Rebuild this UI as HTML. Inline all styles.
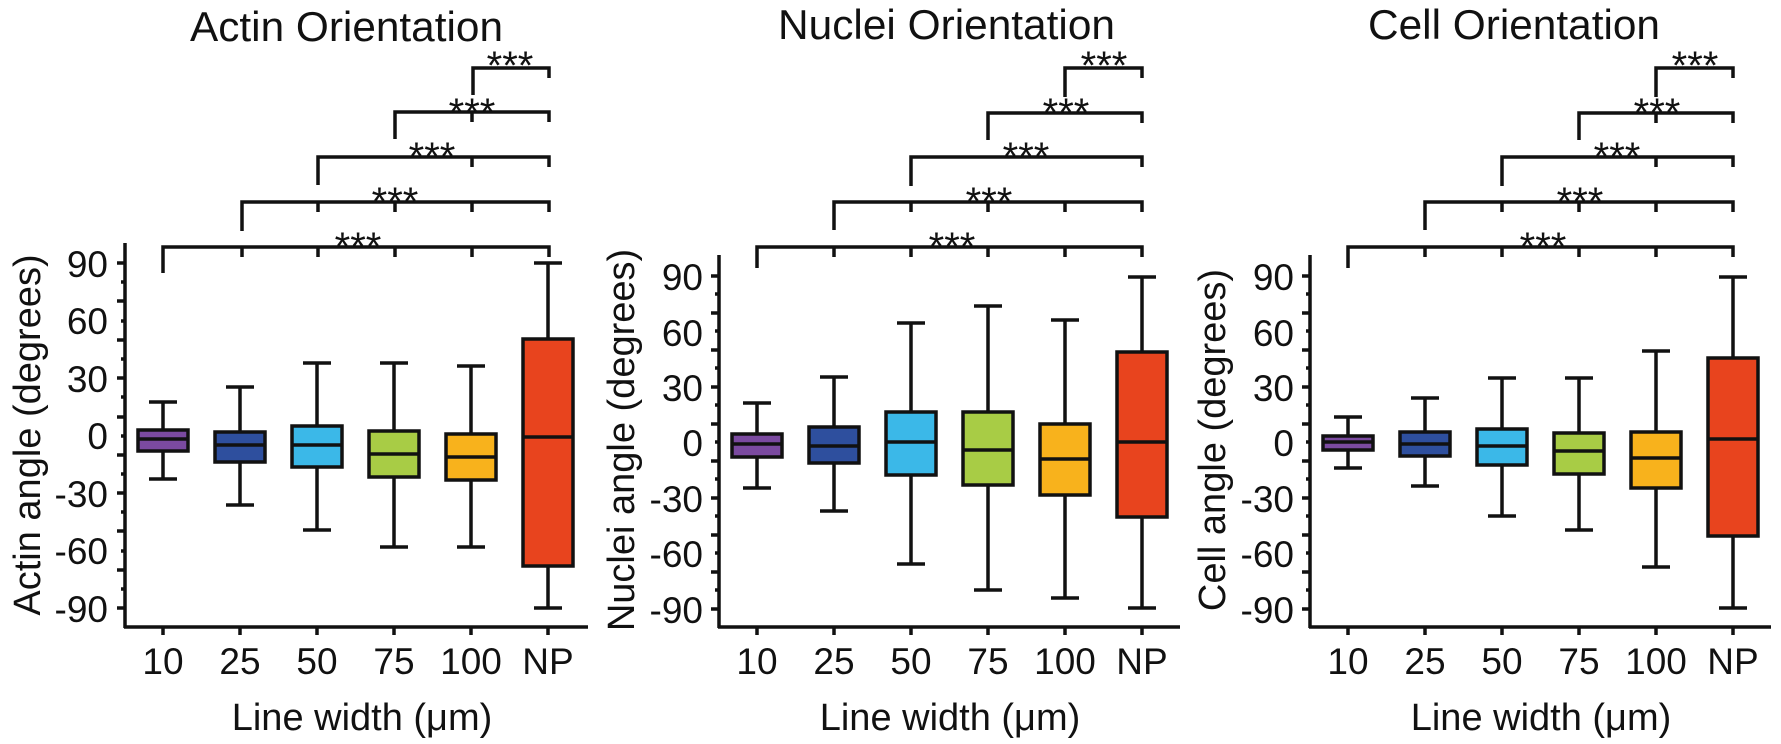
<!DOCTYPE html>
<html><head><meta charset="utf-8"><style>
html,body{margin:0;padding:0;background:#fff;}
svg{display:block;}
text{font-family:"Liberation Sans",Arial,sans-serif;fill:#111;}
.t{font-size:42px;}
.k{font-size:37px;}
.a{font-size:38px;}
.s{font-size:40px;}
line,rect,path{stroke:#111;stroke-width:3.5;}
</style></head><body>
<svg width="1781" height="744" viewBox="0 0 1781 744" xmlns="http://www.w3.org/2000/svg">

<!-- ================= PANEL 1 ================= -->
<text class="t" x="190" y="41" textLength="313" lengthAdjust="spacingAndGlyphs">Actin Orientation</text>
<g fill="none">
<path d="M473 95V68H549V78"/>
<path d="M395 139V112H549V122M472 112V122"/>
<path d="M318 185V157H549V167M472 157V167"/>
<path d="M242 231V202H549V212M318 202V212M395 202V212M472 202V212"/>
<path d="M163 273V247H549V257M242 247V257M318 247V257M395 247V257M472 247V257"/>
</g>
<g class="s" text-anchor="middle">
<text x="510" y="79">***</text><text x="472" y="126">***</text><text x="432" y="170">***</text><text x="395" y="215">***</text><text x="358" y="260">***</text>
</g>
<line x1="125" y1="243" x2="125" y2="628"/>
<line x1="124" y1="627" x2="588" y2="627"/>
<g>
<line x1="117" y1="263" x2="125" y2="263"/><line x1="117" y1="301" x2="125" y2="301"/><line x1="117" y1="340" x2="125" y2="340"/><line x1="117" y1="378" x2="125" y2="378"/><line x1="117" y1="417" x2="125" y2="417"/><line x1="117" y1="455" x2="125" y2="455"/><line x1="117" y1="493" x2="125" y2="493"/><line x1="117" y1="531" x2="125" y2="531"/><line x1="117" y1="570" x2="125" y2="570"/><line x1="117" y1="608" x2="125" y2="608"/>
<line x1="121" y1="282" x2="125" y2="282"/><line x1="121" y1="321" x2="125" y2="321"/><line x1="121" y1="359" x2="125" y2="359"/><line x1="121" y1="397" x2="125" y2="397"/><line x1="121" y1="436" x2="125" y2="436"/><line x1="121" y1="474" x2="125" y2="474"/><line x1="121" y1="512" x2="125" y2="512"/><line x1="121" y1="551" x2="125" y2="551"/><line x1="121" y1="589" x2="125" y2="589"/>
</g>
<g class="k" text-anchor="end">
<text x="108" y="277">90</text><text x="108" y="334">60</text><text x="108" y="392">30</text><text x="108" y="449">0</text><text x="108" y="507">-30</text><text x="108" y="564">-60</text><text x="108" y="622">-90</text>
</g>
<text class="a" transform="translate(40,435) rotate(-90)" text-anchor="middle">Actin angle (degrees)</text>
<g class="k" text-anchor="middle">
<text x="163" y="674">10</text><text x="240" y="674">25</text><text x="317" y="674">50</text><text x="394" y="674">75</text><text x="471" y="674">100</text><text x="548" y="674">NP</text>
</g>
<text class="a" x="362" y="730" text-anchor="middle">Line width (μm)</text>
<g>
<line x1="163" y1="627" x2="163" y2="635"/><line x1="240" y1="627" x2="240" y2="635"/><line x1="317" y1="627" x2="317" y2="635"/><line x1="394" y1="627" x2="394" y2="635"/><line x1="471" y1="627" x2="471" y2="635"/><line x1="548" y1="627" x2="548" y2="635"/>
</g>
<g>
<line x1="163" y1="402" x2="163" y2="479"/><line x1="149" y1="402" x2="177" y2="402"/><line x1="149" y1="479" x2="177" y2="479"/><rect x="138" y="430" width="50" height="21" fill="#7b4aa0"/><line x1="138" y1="439" x2="188" y2="439"/>
<line x1="240" y1="387" x2="240" y2="505"/><line x1="226" y1="387" x2="254" y2="387"/><line x1="226" y1="505" x2="254" y2="505"/><rect x="215" y="432" width="50" height="30" fill="#2e4f9e"/><line x1="215" y1="445" x2="265" y2="445"/>
<line x1="317" y1="363" x2="317" y2="530"/><line x1="303" y1="363" x2="331" y2="363"/><line x1="303" y1="530" x2="331" y2="530"/><rect x="292" y="426" width="50" height="41" fill="#3bb8e8"/><line x1="292" y1="445" x2="342" y2="445"/>
<line x1="394" y1="363" x2="394" y2="547"/><line x1="380" y1="363" x2="408" y2="363"/><line x1="380" y1="547" x2="408" y2="547"/><rect x="369" y="431" width="50" height="46" fill="#a8cc45"/><line x1="369" y1="454" x2="419" y2="454"/>
<line x1="471" y1="366" x2="471" y2="547"/><line x1="457" y1="366" x2="485" y2="366"/><line x1="457" y1="547" x2="485" y2="547"/><rect x="446" y="434" width="50" height="46" fill="#f8b21c"/><line x1="446" y1="457" x2="496" y2="457"/>
<line x1="548" y1="263" x2="548" y2="608"/><line x1="534" y1="263" x2="562" y2="263"/><line x1="534" y1="608" x2="562" y2="608"/><rect x="523" y="339" width="50" height="227" fill="#e8441e"/><line x1="523" y1="437" x2="573" y2="437"/>
</g>

<!-- ================= PANEL 2 ================= -->
<text class="t" x="778" y="39" textLength="337" lengthAdjust="spacingAndGlyphs">Nuclei Orientation</text>
<g fill="none">
<path d="M1065 97V68H1142V78"/>
<path d="M988 140V113H1142V123"/>
<path d="M911 186V157H1142V167"/>
<path d="M834 230V202H1142V212M911 202V212M988 202V212M1065 202V212"/>
<path d="M757 268V247H1142V257M834 247V257M911 247V257M988 247V257M1065 247V257"/>
</g>
<g class="s" text-anchor="middle">
<text x="1104" y="79">***</text><text x="1066" y="126">***</text><text x="1026" y="170">***</text><text x="989" y="215">***</text><text x="952" y="260">***</text>
</g>
<line x1="719" y1="255" x2="719" y2="628"/>
<line x1="718" y1="627" x2="1180" y2="627"/>
<g>
<line x1="711" y1="276" x2="719" y2="276"/><line x1="711" y1="313" x2="719" y2="313"/><line x1="711" y1="350" x2="719" y2="350"/><line x1="711" y1="387" x2="719" y2="387"/><line x1="711" y1="424" x2="719" y2="424"/><line x1="711" y1="461" x2="719" y2="461"/><line x1="711" y1="498" x2="719" y2="498"/><line x1="711" y1="535" x2="719" y2="535"/><line x1="711" y1="572" x2="719" y2="572"/><line x1="711" y1="609" x2="719" y2="609"/>
<line x1="715" y1="294" x2="719" y2="294"/><line x1="715" y1="331" x2="719" y2="331"/><line x1="715" y1="368" x2="719" y2="368"/><line x1="715" y1="405" x2="719" y2="405"/><line x1="715" y1="442" x2="719" y2="442"/><line x1="715" y1="479" x2="719" y2="479"/><line x1="715" y1="516" x2="719" y2="516"/><line x1="715" y1="553" x2="719" y2="553"/><line x1="715" y1="590" x2="719" y2="590"/>
</g>
<g class="k" text-anchor="end">
<text x="703" y="290">90</text><text x="703" y="346">60</text><text x="703" y="401">30</text><text x="703" y="456">0</text><text x="703" y="512">-30</text><text x="703" y="567">-60</text><text x="703" y="623">-90</text>
</g>
<text class="a" transform="translate(634,440) rotate(-90)" text-anchor="middle">Nuclei angle (degrees)</text>
<g class="k" text-anchor="middle">
<text x="757" y="674">10</text><text x="834" y="674">25</text><text x="911" y="674">50</text><text x="988" y="674">75</text><text x="1065" y="674">100</text><text x="1142" y="674">NP</text>
</g>
<text class="a" x="950" y="730" text-anchor="middle">Line width (μm)</text>
<g>
<line x1="757" y1="627" x2="757" y2="635"/><line x1="834" y1="627" x2="834" y2="635"/><line x1="911" y1="627" x2="911" y2="635"/><line x1="988" y1="627" x2="988" y2="635"/><line x1="1065" y1="627" x2="1065" y2="635"/><line x1="1142" y1="627" x2="1142" y2="635"/>
</g>
<g>
<line x1="757" y1="403" x2="757" y2="488"/><line x1="743" y1="403" x2="771" y2="403"/><line x1="743" y1="488" x2="771" y2="488"/><rect x="732" y="434" width="50" height="23" fill="#7b4aa0"/><line x1="732" y1="444" x2="782" y2="444"/>
<line x1="834" y1="377" x2="834" y2="511"/><line x1="820" y1="377" x2="848" y2="377"/><line x1="820" y1="511" x2="848" y2="511"/><rect x="809" y="427" width="50" height="36" fill="#2e4f9e"/><line x1="809" y1="446" x2="859" y2="446"/>
<line x1="911" y1="323" x2="911" y2="564"/><line x1="897" y1="323" x2="925" y2="323"/><line x1="897" y1="564" x2="925" y2="564"/><rect x="886" y="412" width="50" height="63" fill="#3bb8e8"/><line x1="886" y1="442" x2="936" y2="442"/>
<line x1="988" y1="306" x2="988" y2="590"/><line x1="974" y1="306" x2="1002" y2="306"/><line x1="974" y1="590" x2="1002" y2="590"/><rect x="963" y="412" width="50" height="73" fill="#a8cc45"/><line x1="963" y1="450" x2="1013" y2="450"/>
<line x1="1065" y1="320" x2="1065" y2="598"/><line x1="1051" y1="320" x2="1079" y2="320"/><line x1="1051" y1="598" x2="1079" y2="598"/><rect x="1040" y="424" width="50" height="71" fill="#f8b21c"/><line x1="1040" y1="459" x2="1090" y2="459"/>
<line x1="1142" y1="277" x2="1142" y2="608"/><line x1="1128" y1="277" x2="1156" y2="277"/><line x1="1128" y1="608" x2="1156" y2="608"/><rect x="1117" y="352" width="50" height="165" fill="#e8441e"/><line x1="1117" y1="442" x2="1167" y2="442"/>
</g>

<!-- ================= PANEL 3 ================= -->
<text class="t" x="1368" y="39" textLength="292" lengthAdjust="spacingAndGlyphs">Cell Orientation</text>
<g fill="none">
<path d="M1656 97V68H1733V78"/>
<path d="M1579 140V113H1733V123M1656 113V123"/>
<path d="M1502 186V157H1733V167M1656 157V167"/>
<path d="M1425 230V202H1733V212M1502 202V212M1579 202V212M1656 202V212"/>
<path d="M1348 268V247H1733V257M1425 247V257M1502 247V257M1579 247V257M1656 247V257"/>
</g>
<g class="s" text-anchor="middle">
<text x="1695" y="79">***</text><text x="1657" y="126">***</text><text x="1617" y="170">***</text><text x="1580" y="215">***</text><text x="1543" y="260">***</text>
</g>
<line x1="1310" y1="255" x2="1310" y2="628"/>
<line x1="1309" y1="627" x2="1771" y2="627"/>
<g>
<line x1="1302" y1="276" x2="1310" y2="276"/><line x1="1302" y1="313" x2="1310" y2="313"/><line x1="1302" y1="350" x2="1310" y2="350"/><line x1="1302" y1="387" x2="1310" y2="387"/><line x1="1302" y1="424" x2="1310" y2="424"/><line x1="1302" y1="461" x2="1310" y2="461"/><line x1="1302" y1="498" x2="1310" y2="498"/><line x1="1302" y1="535" x2="1310" y2="535"/><line x1="1302" y1="572" x2="1310" y2="572"/><line x1="1302" y1="609" x2="1310" y2="609"/>
<line x1="1306" y1="294" x2="1310" y2="294"/><line x1="1306" y1="331" x2="1310" y2="331"/><line x1="1306" y1="368" x2="1310" y2="368"/><line x1="1306" y1="405" x2="1310" y2="405"/><line x1="1306" y1="442" x2="1310" y2="442"/><line x1="1306" y1="479" x2="1310" y2="479"/><line x1="1306" y1="516" x2="1310" y2="516"/><line x1="1306" y1="553" x2="1310" y2="553"/><line x1="1306" y1="590" x2="1310" y2="590"/>
</g>
<g class="k" text-anchor="end">
<text x="1294" y="290">90</text><text x="1294" y="346">60</text><text x="1294" y="401">30</text><text x="1294" y="456">0</text><text x="1294" y="512">-30</text><text x="1294" y="567">-60</text><text x="1294" y="623">-90</text>
</g>
<text class="a" transform="translate(1225,440) rotate(-90)" text-anchor="middle">Cell angle (degrees)</text>
<g class="k" text-anchor="middle">
<text x="1348" y="674">10</text><text x="1425" y="674">25</text><text x="1502" y="674">50</text><text x="1579" y="674">75</text><text x="1656" y="674">100</text><text x="1733" y="674">NP</text>
</g>
<text class="a" x="1541" y="730" text-anchor="middle">Line width (μm)</text>
<g>
<line x1="1348" y1="627" x2="1348" y2="635"/><line x1="1425" y1="627" x2="1425" y2="635"/><line x1="1502" y1="627" x2="1502" y2="635"/><line x1="1579" y1="627" x2="1579" y2="635"/><line x1="1656" y1="627" x2="1656" y2="635"/><line x1="1733" y1="627" x2="1733" y2="635"/>
</g>
<g>
<line x1="1348" y1="417" x2="1348" y2="468"/><line x1="1334" y1="417" x2="1362" y2="417"/><line x1="1334" y1="468" x2="1362" y2="468"/><rect x="1323" y="436" width="50" height="14" fill="#7b4aa0"/><line x1="1323" y1="442" x2="1373" y2="442"/>
<line x1="1425" y1="398" x2="1425" y2="486"/><line x1="1411" y1="398" x2="1439" y2="398"/><line x1="1411" y1="486" x2="1439" y2="486"/><rect x="1400" y="432" width="50" height="24" fill="#2e4f9e"/><line x1="1400" y1="444" x2="1450" y2="444"/>
<line x1="1502" y1="378" x2="1502" y2="516"/><line x1="1488" y1="378" x2="1516" y2="378"/><line x1="1488" y1="516" x2="1516" y2="516"/><rect x="1477" y="429" width="50" height="36" fill="#3bb8e8"/><line x1="1477" y1="446" x2="1527" y2="446"/>
<line x1="1579" y1="378" x2="1579" y2="530"/><line x1="1565" y1="378" x2="1593" y2="378"/><line x1="1565" y1="530" x2="1593" y2="530"/><rect x="1554" y="433" width="50" height="41" fill="#a8cc45"/><line x1="1554" y1="451" x2="1604" y2="451"/>
<line x1="1656" y1="351" x2="1656" y2="567"/><line x1="1642" y1="351" x2="1670" y2="351"/><line x1="1642" y1="567" x2="1670" y2="567"/><rect x="1631" y="432" width="50" height="56" fill="#f8b21c"/><line x1="1631" y1="458" x2="1681" y2="458"/>
<line x1="1733" y1="277" x2="1733" y2="608"/><line x1="1719" y1="277" x2="1747" y2="277"/><line x1="1719" y1="608" x2="1747" y2="608"/><rect x="1708" y="358" width="50" height="178" fill="#e8441e"/><line x1="1708" y1="439" x2="1758" y2="439"/>
</g>
</svg>
</body></html>
